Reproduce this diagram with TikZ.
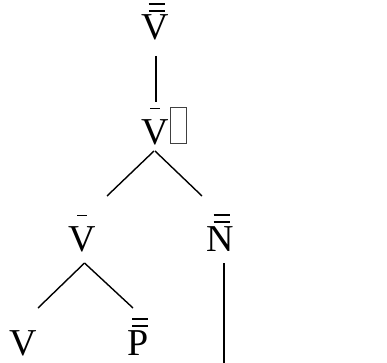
\documentclass[tikz,border=0pt]{standalone}
\usepackage{fontspec}
\setmainfont{Liberation Serif}
\usetikzlibrary{calc}
\newcommand\sbar[1]{\vbox{\offinterlineskip\halign{\hfil##\hfil\cr\vrule width 10pt height 1.6pt depth 0pt\cr\noalign{\kern 10pt}#1\cr}}}
\newcommand\dbar[1]{\vbox{\offinterlineskip\halign{\hfil##\hfil\cr\kern3pt\vrule width 16pt height 1.6pt depth 0pt\cr\noalign{\kern5pt}\kern3pt\vrule width 16pt height 1.6pt depth 0pt\cr\noalign{\kern3.5pt}#1\cr}}}
\newcommand\tofubox{\vbox{\hrule height .9pt\hbox{\vrule width .9pt height 35.2pt\kern 15.2pt\vrule width .9pt}\hrule height .9pt}}
\tikzset{
  lab/.style={anchor=base, inner sep=0pt, font=\fontsize{38}{40}\selectfont},
  edge/.style={line width=1.4pt, black},
}
\begin{document}
\begin{tikzpicture}[x=1pt,y=1pt]
\useasboundingbox (0,0) rectangle (387,362);
\node[lab] (top) at (155,322) {\dbar{V}};
\node[lab] (mid) at (155,218) {\sbar{V}\rlap{\kern1.3pt\color{black!75}\tofubox}};
\node[lab] (vb) at (82,111) {\sbar{V}};
\node[lab] (nb) at (220,111) {\dbar{N}};
\node[lab] (v) at (23.5,7) {V};
\node[lab] (pb) at (138.5,7) {\dbar{P}};
\coordinate (nbend) at (224,-1);
\draw[edge] ($(top.base)+(1,-16)$) -- ($(mid.base)+(1,42)$);
\draw[edge] ($(mid.base)+(-1,-7)$) -- ($(vb.base)+(25,55)$);
\draw[edge] ($(mid.base)+(0,-7)$) -- ($(nb.base)+(-18,55)$);
\draw[edge] ($(vb.base)+(2.5,-12)$) -- ($(v.base)+(14.5,47)$);
\draw[edge] ($(vb.base)+(2.5,-12)$) -- ($(pb.base)+(-5.5,47)$);
\draw[edge] ($(nb.base)+(4,-12)$) -- (nbend);
\end{tikzpicture}
\end{document}
